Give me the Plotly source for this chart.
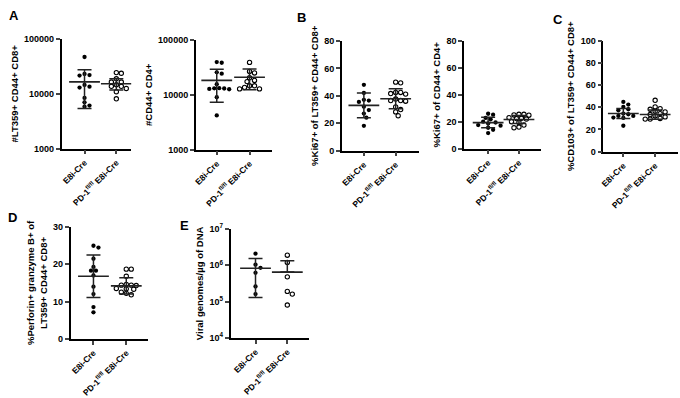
import math
import plotly.graph_objects as go

W, H = 680, 398
groups = ["E8i-Cre", "PD-1<sup>fl/fl</sup> E8i-Cre"]

# ---------------- data ----------------
a1_e8i = [47000, 23000, 22000, 21500, 14500, 13500, 13000, 8400, 7000, 5800, 6100]
a1_pd = [24400, 23700, 18800, 16400, 16400, 14700, 13700, 13700, 12500, 10900, 8100]
a1_mean = [16500, 15300]
a1_sd = [11100, 3600]

a2_e8i = [38400, 39500, 24300, 25700, 15600, 13000, 12800, 13200, 12600, 13100, 9000, 4200]
a2_pd = [39000, 26700, 25000, 20400, 18300, 17400, 14600, 13600, 12800, 12800, 14600]
a2_mean = [18300, 20900]
a2_sd = [11000, 8500]

b1_e8i = [48, 42, 37, 36.5, 35.5, 32, 29.5, 27, 24, 18]
b1_pd = [49.9, 49.4, 42.4, 41.6, 41.2, 42.4, 37.6, 36.5, 36.5, 36, 31.8, 29.9, 28.2, 25.4]
b1_mean = [33.0, 37.8]
b1_sd = [9.0, 7.3]

b2_e8i = [25.9, 25.2, 22.8, 21.8, 20, 19.4, 18.7, 17.5, 17, 15.5, 14, 11.5]
b2_pd = [25.5, 25.5, 25, 24.8, 23, 22.5, 22, 22.3, 20, 19.4, 17.5, 16, 15.5]
b2_mean = [19.3, 21.6]
b2_sd = [3.9, 2.9]

c_e8i = [44.8, 42.4, 40.3, 38.2, 37.3, 34.3, 33.7, 32.2, 32.2, 30.7, 30.4, 23.3]
c_pd = [46.3, 40.3, 38.8, 38.2, 36.4, 35.8, 34.3, 33.4, 32.2, 31.3, 29.9, 29.3, 29.3]
c_mean = [34.4, 33.4]
c_sd = [4.5, 4.2]

d_e8i = [25, 24.5, 21.5, 19.3, 18.3, 18.3, 17, 14, 12, 8.5, 7.1]
d_pd = [18.7, 18.7, 16.8, 14.6, 14.4, 14.4, 14.3, 13.5, 13.4, 13.3, 12.5, 12.2, 11.8]
d_mean = [16.8, 14.2]
d_sd = [5.7, 2.2]

e_e8i = [2.1e6, 1.04e6, 8.5e5, 6.2e5, 2.6e5, 1.6e5]
e_pd = [1.9e6, 1.2e6, 4.8e5, 1.9e5, 1.6e5, 8.0e4]
e_mean = [8.3e5, 6.5e5]
e_sd = [7.0e5, 6.8e5]

log_ticks_a = [1000, 10000, 100000]
log_ticks_e = [1e4, 1e5, 1e6, 1e7]
log_text_e = ["10<sup>4</sup>", "10<sup>5</sup>", "10<sup>6</sup>", "10<sup>7</sup>"]

# ---------------- layout of panels (pixel boxes) ----------------
FONT = "Liberation Sans, Arial, sans-serif"
panels = [
    dict(e=a1_e8i, p=a1_pd, m=a1_mean, s=a1_sd, log=True, rng=(3, 5),
         title="#LT359+ CD44+ CD8+", box=(58, 128, 81, 113, 33, 146),
         tv=log_ticks_a, tt=[str(v) for v in log_ticks_a]),
    dict(e=a2_e8i, p=a2_pd, m=a2_mean, s=a2_sd, log=True, rng=(3, 5),
         title="#CD44+ CD4+", box=(193, 270, 214, 247, 34, 147),
         tv=log_ticks_a, tt=[str(v) for v in log_ticks_a]),
    dict(e=b1_e8i, p=b1_pd, m=b1_mean, s=b1_sd, log=False, rng=(0, 80),
         title="%Ki67+ of LT359+ CD44+ CD8+", box=(340, 417, 362, 394, 35, 148),
         tv=[0, 20, 40, 60, 80], tt=None),
    dict(e=b2_e8i, p=b2_pd, m=b2_mean, s=b2_sd, log=False, rng=(0, 80),
         title="%Ki67+ of CD44+ CD4+", box=(463, 540, 487, 518, 35, 146),
         tv=[0, 20, 40, 60, 80], tt=None),
    dict(e=c_e8i, p=c_pd, m=c_mean, s=c_sd, log=False, rng=(0, 100),
         title="%CD103+ of LT359+ CD44+ CD8+", box=(603, 678, 623, 655, 35, 149),
         tv=[0, 20, 40, 60, 80, 100], tt=None),
    dict(e=d_e8i, p=d_pd, m=d_mean, s=d_sd, log=False, rng=(0, 30),
         title="%Perforin+ granzyme B+ of<br>LT359+ CD44+ CD8+", box=(67, 145, 90, 123, 227, 342),
         tv=[0, 10, 20, 30], tt=None),
    dict(e=e_e8i, p=e_pd, m=e_mean, s=e_sd, log=True, rng=(4, 7),
         title="Viral genomes/µg of DNA", box=(228, 307, 253, 285, 229, 341),
         tv=log_ticks_e, tt=log_text_e),
]

letters = [("A", 10, 9), ("B", 299, 11), ("C", 557, 13), ("D", 9, 217), ("E", 182, 225)]


def swarm(vals, to_px, spacing=5.0, mind=4.4):
    order = sorted(range(len(vals)), key=lambda i: -vals[i])
    offs = [0.0] * len(vals)
    placed = []
    cands = [0.0]
    for j in range(1, 30):
        cands += [j * spacing / 2, -j * spacing / 2]
    for i in order:
        py = to_px(vals[i])
        for c in cands:
            if all((c - qx) ** 2 + (py - qy) ** 2 >= mind ** 2 for qx, qy in placed):
                offs[i] = c
                placed.append((c, py))
                break
    return offs


fig = go.Figure()
layout = dict(width=W, height=H, margin=dict(l=0, r=0, t=0, b=0),
              paper_bgcolor="white", plot_bgcolor="white", showlegend=False,
              font=dict(family=FONT, color="black", size=9, weight="bold"))

for k, pn in enumerate(panels):
    n = "" if k == 0 else str(k + 1)
    xa, ya = "x" + n, "y" + n
    x0, x1, t0, t1, ytop, ybot = pn["box"]
    upx = t1 - t0
    xr = [(x0 - t0) / upx, 1 + (x1 - t1) / upx]
    hpx = ybot - ytop
    lo, hi = pn["rng"]

    def to_px(v, lo=lo, hi=hi, hpx=hpx, lg=pn["log"]):
        t = math.log10(v) if lg else v
        return (t - lo) / (hi - lo) * hpx

    for g, vals in enumerate([pn["e"], pn["p"]]):
        offs = swarm(vals, to_px)
        xs = [g + o / upx for o in offs]
        if g == 0:
            mk = dict(symbol="circle", size=4.3, color="black")
        else:
            mk = dict(symbol="circle-open", size=4.3, color="black", line=dict(width=1.1, color="black"))
        fig.add_trace(go.Scatter(x=xs, y=vals, mode="markers", marker=mk,
                                 xaxis=xa, yaxis=ya, hoverinfo="skip"))
        mean, sd = pn["m"][g], pn["s"][g]
        minus = sd
        if pn["log"] and mean - sd <= 0:
            minus = 0
        fig.add_trace(go.Scatter(
            x=[g], y=[mean], mode="markers", xaxis=xa, yaxis=ya, hoverinfo="skip",
            marker=dict(symbol="line-ew", size=22, color="#222",
                        line=dict(width=1.6, color="#222")),
            error_y=dict(type="data", symmetric=False, array=[sd], arrayminus=[minus],
                         width=7, thickness=1.5, color="#222")))

    xkey = "xaxis" + n
    ykey = "yaxis" + n
    layout[xkey] = dict(domain=[x0 / W, x1 / W], range=xr, anchor=ya,
                        tickmode="array", tickvals=[0, 1], ticktext=groups,
                        tickangle=-45, ticks="outside", ticklen=4, tickwidth=1.7,
                        showline=True, linewidth=1.8, linecolor="black",
                        showgrid=False, zeroline=False,
                        tickfont=dict(family=FONT, size=8.5, color="black", weight="bold"))
    yd = dict(domain=[1 - ybot / H, 1 - ytop / H], anchor=xa,
              ticks="outside", ticklen=4, tickwidth=1.7,
              showline=True, linewidth=1.8, linecolor="black",
              showgrid=False, zeroline=False, tickmode="array", tickvals=pn["tv"],
              tickfont=dict(family=FONT, size=9, color="black", weight="bold"),
              title=dict(text=pn["title"], standoff=4,
                         font=dict(family=FONT, size=9.5, color="black", weight="bold")))
    if pn["tt"] is not None:
        yd["ticktext"] = pn["tt"]
    if pn["log"]:
        yd["type"] = "log"
    yd["range"] = [lo, hi]
    layout[ykey] = yd

ann = []
for txt, px, py in letters:
    ann.append(dict(text=txt, x=px / W, y=1 - py / H, xref="paper", yref="paper",
                    showarrow=False, xanchor="center", yanchor="middle",
                    font=dict(family=FONT, size=13, color="black", weight="bold")))
layout["annotations"] = ann
fig.update_layout(**layout)
fig.write_html("out.html")
